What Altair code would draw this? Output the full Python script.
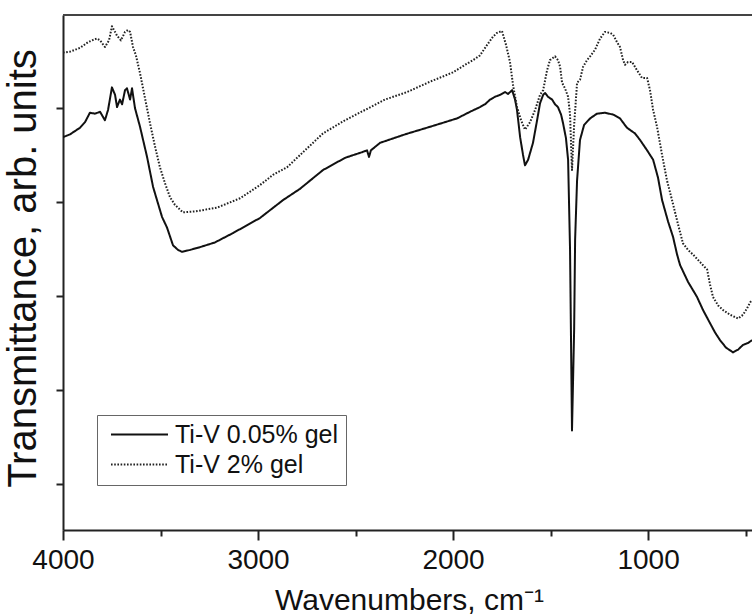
import altair as alt
import pandas as pd

# Ti-V 0.05% gel (solid)
wn_a = [4000, 3964, 3913, 3887, 3862, 3836, 3810, 3785, 3769, 3749, 3733, 3723, 3708, 3697,
        3682, 3672, 3656, 3646, 3631, 3605, 3569, 3538, 3518, 3492, 3467, 3436, 3410, 3390,
        3349, 3297, 3221, 3128, 2990, 2872, 2785, 2667, 2554, 2467, 2441, 2431, 2421, 2374,
        2246, 2103, 1979, 1913, 1862, 1836, 1810, 1785, 1759, 1733, 1718, 1697, 1682, 1672,
        1656, 1641, 1631, 1615, 1590, 1569, 1554, 1538, 1528, 1513, 1492, 1477, 1462, 1446,
        1436, 1421, 1410, 1400, 1395, 1390, 1379, 1374, 1364, 1349, 1328, 1297, 1262, 1221,
        1179, 1144, 1108, 1067, 1041, 1005, 974, 949, 928, 897, 872, 851, 836, 795, 749, 718,
        682, 656, 631, 600, 564, 538, 513, 487, 467]
t_a = [3.69, 3.72, 3.79, 3.85, 3.95, 3.94, 3.96, 3.87, 3.98, 4.22, 4.14, 4.01, 4.09, 4.04,
       4.19, 4.21, 4.09, 4.21, 4.00, 3.80, 3.48, 3.16, 3.02, 2.84, 2.73, 2.54, 2.49, 2.47,
       2.49, 2.52, 2.57, 2.67, 2.83, 3.02, 3.14, 3.34, 3.47, 3.53, 3.55, 3.48, 3.55, 3.63,
       3.72, 3.81, 3.89, 3.96, 4.01, 4.04, 4.09, 4.12, 4.14, 4.17, 4.15, 4.19, 4.09, 3.98,
       3.69, 3.50, 3.39, 3.45, 3.63, 3.87, 4.05, 4.14, 4.16, 4.12, 4.09, 4.04, 4.01, 3.93,
       3.84, 3.68, 3.45, 2.49, 1.53, 0.57, 1.64, 2.60, 3.23, 3.66, 3.82, 3.89, 3.94, 3.95,
       3.93, 3.89, 3.79, 3.73, 3.66, 3.55, 3.45, 3.26, 3.02, 2.79, 2.63, 2.44, 2.33, 2.15,
       1.99, 1.85, 1.71, 1.61, 1.53, 1.45, 1.40, 1.43, 1.48, 1.50, 1.53]

# Ti-V 2% gel (dotted)
wn_b = [4000, 3964, 3913, 3872, 3851, 3826, 3810, 3785, 3764, 3749, 3733, 3723, 3703, 3682,
        3667, 3656, 3641, 3626, 3605, 3580, 3554, 3528, 3503, 3477, 3451, 3426, 3385, 3323,
        3210, 3092, 2990, 2923, 2851, 2759, 2667, 2554, 2451, 2349, 2236, 2118, 2000, 1938,
        1897, 1862, 1826, 1795, 1774, 1749, 1728, 1708, 1692, 1672, 1651, 1631, 1605, 1579,
        1554, 1538, 1518, 1503, 1477, 1462, 1451, 1441, 1426, 1410, 1400, 1390, 1379, 1364,
        1349, 1333, 1313, 1297, 1272, 1246, 1221, 1195, 1179, 1159, 1144, 1128, 1118, 1103,
        1082, 1056, 1031, 1005, 990, 974, 954, 928, 903, 877, 846, 821, 795, 769, 733, 697,
        682, 667, 641, 615, 579, 538, 513, 492, 477, 467]
t_b = [4.59, 4.60, 4.64, 4.70, 4.72, 4.74, 4.72, 4.65, 4.72, 4.87, 4.81, 4.77, 4.72, 4.81,
       4.83, 4.81, 4.65, 4.56, 4.37, 4.11, 3.84, 3.59, 3.37, 3.20, 3.05, 2.97, 2.89, 2.90,
       2.94, 3.04, 3.18, 3.29, 3.37, 3.55, 3.73, 3.87, 3.98, 4.09, 4.17, 4.28, 4.38, 4.46,
       4.51, 4.56, 4.67, 4.76, 4.80, 4.82, 4.67, 4.49, 4.24, 4.01, 3.87, 3.77, 3.85, 3.98,
       4.14, 4.19, 4.40, 4.51, 4.55, 4.51, 4.44, 4.27, 4.21, 4.12, 3.93, 3.34, 3.82, 4.27,
       4.30, 4.44, 4.51, 4.55, 4.62, 4.74, 4.81, 4.80, 4.78, 4.70, 4.65, 4.51, 4.46, 4.49,
       4.49, 4.40, 4.32, 4.32, 4.19, 3.98, 3.80, 3.50, 3.23, 3.02, 2.76, 2.56, 2.49, 2.44,
       2.36, 2.28, 2.12, 1.99, 1.90, 1.85, 1.80, 1.76, 1.80, 1.87, 1.93, 1.96]

series_names = ["Ti-V 0.05% gel", "Ti-V 2% gel"]
x_ticks = [4000, 3500, 3000, 2500, 2000, 1500, 1000, 500]
y_ticks = [0, 1, 2, 3, 4]

df = pd.concat([
    pd.DataFrame({"wn": wn_a, "T": t_a, "series": series_names[0]}),
    pd.DataFrame({"wn": wn_b, "T": t_b, "series": series_names[1]}),
])

W, H = 689, 515
FONT = "Liberation Sans"

legend_spec = dict(title=None, orient="none", legendX=34, legendY=400,
                   symbolType="M-5,0H1", symbolSize=361, symbolStrokeWidth=2,
                   symbolOffset=42, labelFontSize=25, labelColor="#111",
                   labelOffset=4, labelLimit=400, rowPadding=4, padding=7,
                   strokeColor="#666", fillColor="white")

lines = alt.Chart(df).mark_line(clip=True, strokeJoin="round").encode(
    x=alt.X("wn:Q",
            scale=alt.Scale(domain=[4000, 467], nice=False, zero=False),
            axis=alt.Axis(values=x_ticks,
                          labelExpr="datum.value % 1000 === 0 ? datum.label : ''",
                          tickSize={"expr": "datum.value % 1000 === 0 ? 10 : 6"},
                          format="d",
                          labelFontSize=28, labelPadding=6, labelColor="#111",
                          labelFlush=False, labelOverlap=False,
                          tickColor="#222", tickWidth=2,
                          domainColor="#222", domainWidth=2,
                          grid=False,
                          title="Wavenumbers, cm⁻¹",
                          titleFontSize=30, titleFontWeight="normal", titleColor="#111",
                          titleX=346, titleY=79, titleAlign="center",
                          titleBaseline="alphabetic")),
    y=alt.Y("T:Q",
            scale=alt.Scale(domain=[-0.49, 4.99], nice=False, zero=False),
            axis=alt.Axis(values=y_ticks, labels=False, tickSize=7,
                          tickColor="#222", tickWidth=2,
                          domainColor="#222", domainWidth=2, grid=False,
                          title="Transmittance, arb. units",
                          titleFontSize=40, titleFontWeight="normal", titleColor="#111",
                          titlePadding=12, titleY=253)),
    color=alt.Color("series:N",
                    scale=alt.Scale(domain=series_names, range=["#111111", "#222222"]),
                    legend=alt.Legend(**legend_spec)),
    strokeDash=alt.StrokeDash("series:N",
                              scale=alt.Scale(domain=series_names, range=[[1, 0], [1.6, 1.6]]),
                              legend=alt.Legend(**legend_spec)),
    strokeWidth=alt.value(2),
)

top_border = alt.Chart(df).mark_rule(color="#444", strokeWidth=2).encode(
    x=alt.value(0), x2=alt.value(W), y=alt.value(0)
)

chart = alt.layer(lines, top_border).properties(
    width=W, height=H,
    padding={"left": 63, "top": 15, "right": 0, "bottom": 86},
    autosize="none",
).configure(font=FONT).configure_view(stroke=None)

chart.save("out.html", embed_options={"renderer": "svg", "actions": False})
